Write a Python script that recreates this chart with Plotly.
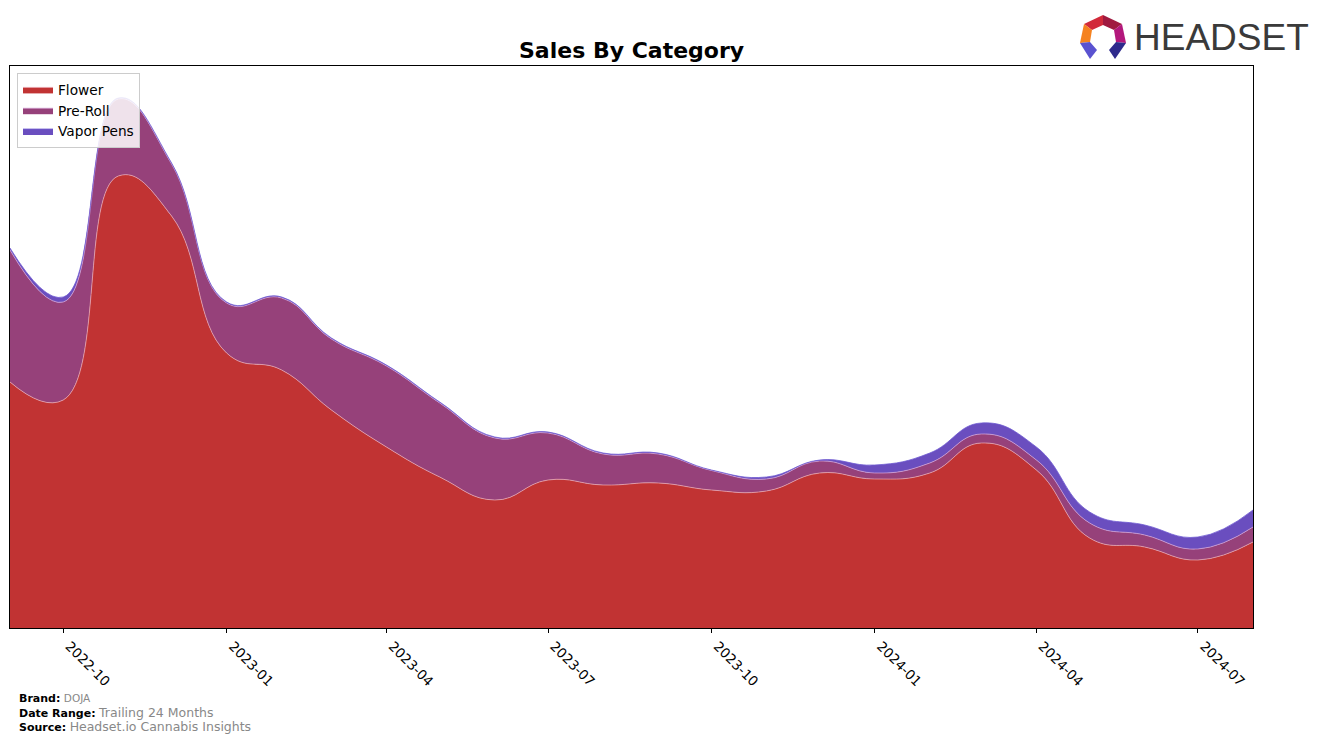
import plotly.graph_objects as go

# ---- data (monthly; arbitrary sales units) ----
months = ["2022-09-01", "2022-10-01", "2022-11-01", "2022-12-01", "2023-01-01", "2023-02-01",
          "2023-03-01", "2023-04-01", "2023-05-01", "2023-06-01", "2023-07-01", "2023-08-01",
          "2023-09-01", "2023-10-01", "2023-11-01", "2023-12-01", "2024-01-01", "2024-02-01",
          "2024-03-01", "2024-04-01", "2024-05-01", "2024-06-01", "2024-07-01", "2024-08-01"]
flower = [246, 228, 452, 412, 275, 258, 218, 181, 151, 128, 148, 143,
          145, 138, 137, 155, 149, 155, 185, 158, 90, 81, 68, 86]
pre_roll = [132, 98, 77, 52, 50, 72, 71, 81, 74, 62, 47, 31,
            29, 19.5, 12, 12, 6, 10, 9, 10, 15, 12, 11, 15]
vapor_pens = [2, 5, 1, 1, 1, 1, 1, 1, 1, 1, 1, 1,
              1, 0.5, 2, 1, 8, 10, 11, 13, 11, 10, 12, 17]

tick_vals = ["2022-10-01", "2023-01-01", "2023-04-01", "2023-07-01",
             "2023-10-01", "2024-01-01", "2024-04-01", "2024-07-01"]
tick_text = ["2022-10", "2023-01", "2023-04", "2023-07",
             "2023-10", "2024-01", "2024-04", "2024-07"]

series = [
    ("Flower", flower, "#C13333", "rgba(235,170,180,0.9)"),
    ("Pre-Roll", pre_roll, "#96417A", "rgba(215,165,215,0.9)"),
    ("Vapor Pens", vapor_pens, "#6A4EBF", "rgba(110,90,210,1)"),
]

fig = go.Figure()
for name, vals, fill, edge in series:
    fig.add_trace(go.Scatter(
        x=months, y=vals, name=name, mode="lines", stackgroup="one",
        line=dict(shape="spline", smoothing=1.3, width=0.8, color=edge),
        fillcolor=fill,
    ))

# page layout (page pixels; the figure sits at an 8px body margin)
OFF = 8
W, H = 1309, 735
L, R, T, B = 10, 1253, 66, 628   # plot area in page pixels


def px(x):
    return (x - L) / (R - L)


def py(y):
    return (B - y) / (B - T)


def path(points):
    return "M " + " L ".join(f"{px(x):.5f},{py(y):.5f}" for x, y in points) + " Z"


# logo icon (decorative)
logo_parts = [
    ([(1084, 24), (1103, 15), (1103, 25), (1092, 30)], "#D22A3A"),
    ([(1103, 15), (1122, 24), (1114, 30), (1103, 25)], "#A01A40"),
    ([(1122, 24), (1126, 43), (1116, 42), (1114, 30)], "#B3187C"),
    ([(1080, 43), (1084, 24), (1092, 30), (1090, 42)], "#F58220"),
    ([(1080, 43), (1090, 42), (1097, 50), (1090, 59)], "#5A52D0"),
    ([(1126, 43), (1116, 42), (1109, 50), (1115, 59)], "#2E2A8C"),
]
shapes = []
for pts, col in logo_parts:
    shapes.append(dict(type="path", xref="paper", yref="paper", path=path(pts),
                       fillcolor=col, line=dict(width=0)))


def note(text, x, y, size, color="black", anchor="left", family="DejaVu Sans"):
    return dict(text=text, x=px(x), y=py(y), xref="paper", yref="paper",
                xanchor=anchor, yanchor="middle", showarrow=False,
                font=dict(family=family, size=size, color=color))


annotations = [
    note("HEADSET", 1132, 38, 37, "#3A3A3A", family="Liberation Sans, Arial, sans-serif"),
    note("<b>Brand:</b> <span style='color:#888888;font-size:10.5px'>DOJA</span>", 17, 698, 11),
    note("<b>Date Range:</b> <span style='color:#888888;font-size:12.5px'>Trailing 24 Months</span>", 17, 712, 11),
    note("<b>Source:</b> <span style='color:#888888;font-size:12.5px'>Headset.io Cannabis Insights</span>", 17, 726, 11),
    note("<b>Sales By Category</b>", (L + R) / 2, 51, 22, anchor="center"),
]

fig.update_layout(
    width=W, height=H,
    margin=dict(l=L - OFF, r=W - (R - OFF), t=T - OFF, b=H - (B - OFF), pad=0),
    paper_bgcolor="white", plot_bgcolor="white",
    font=dict(family="DejaVu Sans", color="black"),
    legend=dict(x=px(17), y=py(73), xanchor="left", yanchor="top",
                bgcolor="rgba(255,255,255,0.85)", bordercolor="#CCCCCC", borderwidth=1,
                font=dict(size=13.7, family="DejaVu Sans"), traceorder="normal",
                itemwidth=30, tracegroupgap=0),
    xaxis=dict(type="date", range=[months[0], months[-1]], tickvals=tick_vals, ticktext=tick_text,
               tickangle=45, ticks="outside", ticklen=4, tickcolor="black",
               ticklabelshift=6,
               showline=True, linecolor="black", linewidth=1, mirror=True,
               showgrid=False, zeroline=False, tickfont=dict(size=13.5, family="DejaVu Sans")),
    yaxis=dict(range=[0, B - T], showticklabels=False, ticks="", showgrid=False, zeroline=False,
               showline=True, linecolor="black", linewidth=1, mirror=True),
    shapes=shapes, annotations=annotations, showlegend=True,
)

fig.write_html("out.html")
